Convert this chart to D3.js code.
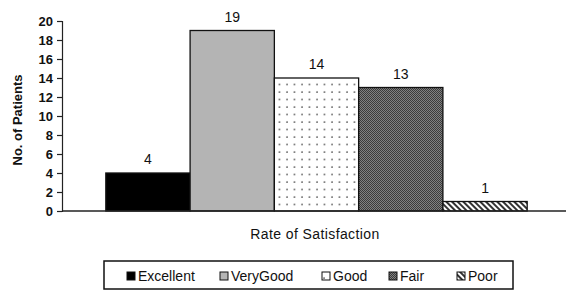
<!DOCTYPE html>
<html>
<head>
<meta charset="utf-8">
<script src="https://cdn.jsdelivr.net/npm/d3@7"></script>
<style>
  body { margin: 0; background: #fff; }
  text { font-family: "Liberation Sans", Arial, sans-serif; fill: #111; }
</style>
</head>
<body>
<div id="chart"></div>
<script>
// data
const categories = ["Excellent", "VeryGood", "Good", "Fair", "Poor"]
const patients = [4, 19, 14, 13, 1]
const yTicks = [0, 2, 4, 6, 8, 10, 12, 14, 16, 18, 20]

const width = 566
const height = 295

const svg = d3.select("#chart")
  .append("svg")
  .attr("width", width)
  .attr("height", height)

// patterns
const defs = svg.append("defs")

const dots = defs.append("pattern")
  .attr("id", "dots")
  .attr("patternUnits", "userSpaceOnUse")
  .attr("width", 7.5)
  .attr("height", 7.5)
dots.append("rect").attr("width", 7.5).attr("height", 7.5).attr("fill", "#fff")
dots.append("circle").attr("cx", 2).attr("cy", 2).attr("r", 0.8).attr("fill", "#444")

const checker = defs.append("pattern")
  .attr("id", "checker")
  .attr("patternUnits", "userSpaceOnUse")
  .attr("width", 2)
  .attr("height", 2)
checker.append("rect").attr("width", 2).attr("height", 2).attr("fill", "#808080")
checker.append("rect").attr("width", 1).attr("height", 1).attr("fill", "#3a3a3a")
checker.append("rect").attr("x", 1).attr("y", 1).attr("width", 1).attr("height", 1).attr("fill", "#3a3a3a")

const hatch = defs.append("pattern")
  .attr("id", "hatch")
  .attr("patternUnits", "userSpaceOnUse")
  .attr("width", 4)
  .attr("height", 4)
  .attr("patternTransform", "rotate(-45)")
hatch.append("rect").attr("width", 4).attr("height", 4).attr("fill", "#fff")
hatch.append("rect").attr("width", 2).attr("height", 4).attr("fill", "#333")

const fills = {
  Excellent: "#000",
  VeryGood: "#b4b4b4",
  Good: "url(#dots)",
  Fair: "url(#checker)",
  Poor: "url(#hatch)"
}

// scales
const x = d3.scaleBand()
  .domain(categories)
  .range([62, 571])
  .paddingInner(0)
  .paddingOuter(0.52)

const y = d3.scaleLinear()
  .domain([0, 20])
  .range([211, 21])

// y axis
const yAxis = d3.axisLeft(y).tickValues(yTicks).tickSize(5).tickPadding(4)
const yG = svg.append("g")
  .attr("transform", "translate(62,0)")
  .call(yAxis)
yG.select(".domain").attr("stroke", "#222").attr("stroke-width", 1.2)
yG.selectAll(".tick line").attr("stroke", "#222").attr("stroke-width", 1.2)
yG.selectAll(".tick text")
  .attr("font-size", 13)
  .attr("font-weight", "bold")
  .style("font-family", "'Liberation Sans', Arial, sans-serif")
  .attr("fill", "#111")

// bars
svg.selectAll(".bar")
  .data(patients)
  .enter()
  .append("rect")
  .attr("class", "bar")
  .attr("x", (d, i) => x(categories[i]))
  .attr("y", d => y(d))
  .attr("width", x.bandwidth())
  .attr("height", d => y(0) - y(d))
  .attr("fill", (d, i) => fills[categories[i]])
  .attr("stroke", "#111")
  .attr("stroke-width", 1.3)

// x axis line
svg.append("line")
  .attr("x1", 62)
  .attr("x2", width)
  .attr("y1", y(0))
  .attr("y2", y(0))
  .attr("stroke", "#222")
  .attr("stroke-width", 1.5)

// value labels
svg.selectAll(".val")
  .data(patients)
  .enter()
  .append("text")
  .attr("class", "val")
  .attr("x", (d, i) => x(categories[i]) + x.bandwidth() / 2)
  .attr("y", d => y(d) - 9)
  .attr("text-anchor", "middle")
  .attr("font-size", 14)
  .text(d => d)

// axis titles
svg.append("text")
  .attr("x", 315)
  .attr("y", 239)
  .attr("text-anchor", "middle")
  .attr("font-size", 14)
  .attr("letter-spacing", 0.4)
  .text("Rate of Satisfaction")

svg.append("text")
  .attr("transform", "translate(22,120)rotate(-90)")
  .attr("text-anchor", "middle")
  .attr("font-size", 13)
  .attr("font-weight", "bold")
  .text("No. of Patients")

// legend
svg.append("rect")
  .attr("x", 104)
  .attr("y", 261)
  .attr("width", 409)
  .attr("height", 28)
  .attr("fill", "#fff")
  .attr("stroke", "#111")
  .attr("stroke-width", 1.5)

const legendX = [127, 220, 322, 389, 457]
const lg = svg.selectAll(".lg")
  .data(categories)
  .enter()
  .append("g")
  .attr("class", "lg")
  .attr("transform", (d, i) => "translate(" + legendX[i] + ",276)")
lg.append("rect")
  .attr("x", 0)
  .attr("y", -4)
  .attr("width", 8)
  .attr("height", 8)
  .attr("fill", d => fills[d])
  .attr("stroke", "#111")
  .attr("stroke-width", 1)
lg.append("text")
  .attr("x", 11)
  .attr("y", 5)
  .attr("font-size", 14)
  .text(d => d)
</script>
</body>
</html>
